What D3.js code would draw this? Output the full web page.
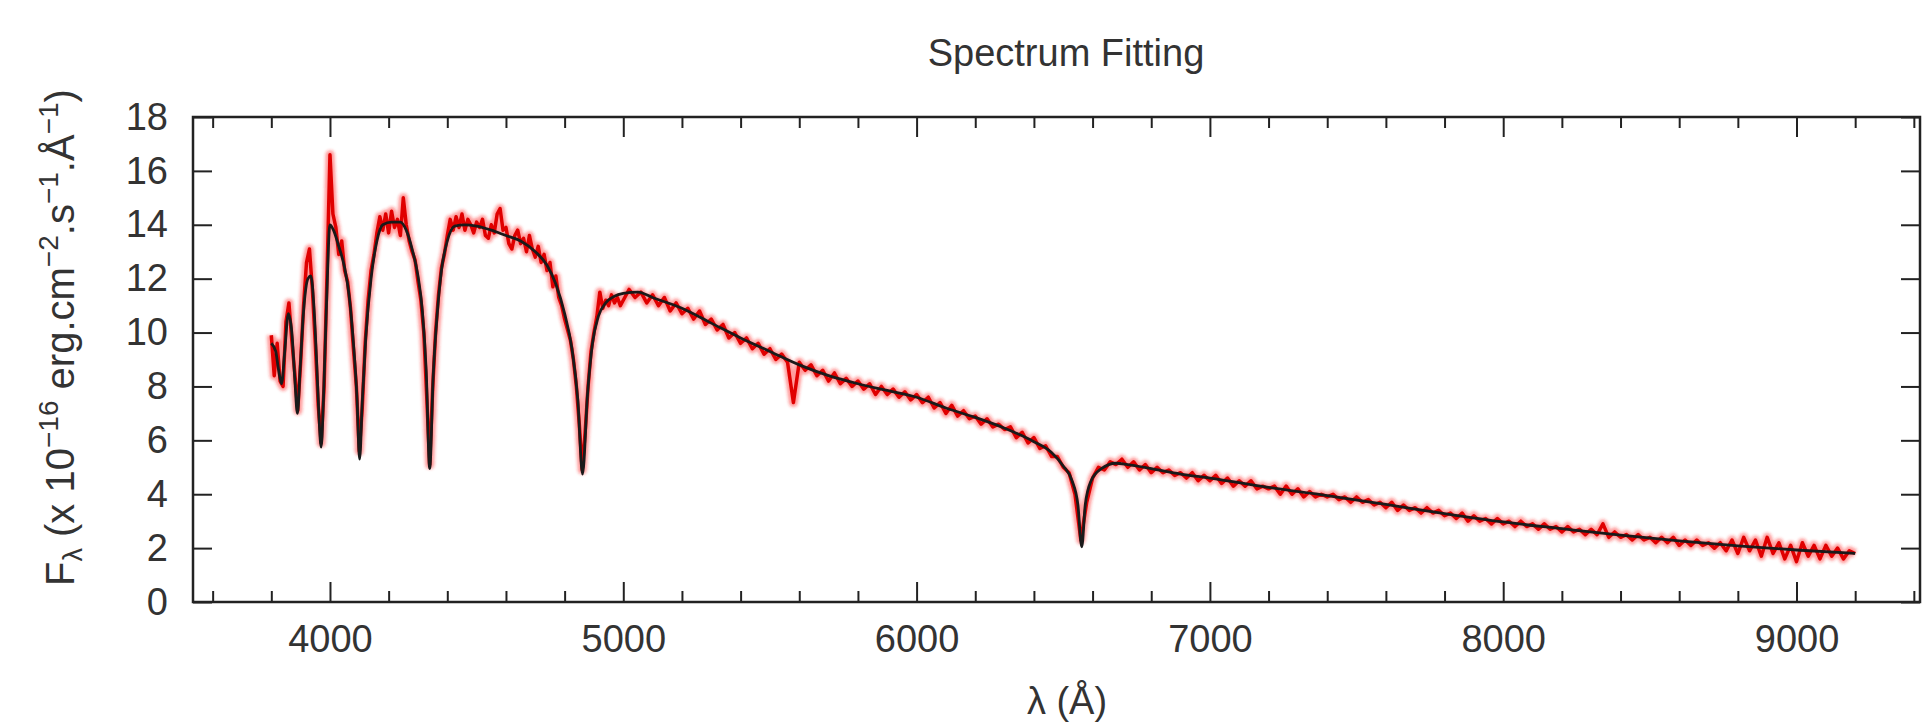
<!DOCTYPE html>
<html>
<head>
<meta charset="utf-8">
<script src="https://cdn.jsdelivr.net/npm/d3@7"></script>
<style>
  body { margin: 0; background: #ffffff; }
  text { font-family: "Liberation Sans", Arial, sans-serif; fill: #333333; }
  .tick line { stroke: #222222; stroke-width: 2px; }
</style>
</head>
<body>
<svg width="1923" height="724"></svg>
<script>
// ***********************************
// Data

// Fitted model (black): wavelength in Angstrom, flux in 1e-16 erg/cm2/s/A
var modelWave = [
  3800, 3815, 3825, 3835, 3845, 3858, 3870, 3880, 3889, 3898,
  3910, 3925, 3935, 3945, 3955, 3962, 3970, 3978, 3988, 4000,
  4012, 4030, 4050, 4065, 4080, 4092, 4101, 4110, 4122, 4140,
  4160, 4180, 4210, 4240, 4260, 4280, 4300, 4315, 4328, 4340,
  4352, 4365, 4380, 4400, 4425, 4460, 4500, 4550, 4600, 4650,
  4700, 4740, 4770, 4800, 4825, 4845, 4861, 4878, 4895, 4915,
  4940, 4970, 5000, 5050, 5100, 5200, 5300, 5400, 5500, 5600,
  5700, 5800, 5900, 6000, 6100, 6200, 6300, 6400, 6460, 6500,
  6530, 6550, 6563, 6575, 6595, 6630, 6680, 6720, 6800, 6900,
  7000, 7200, 7400, 7600, 7800, 8000, 8200, 8400, 8600, 8800,
  9000, 9200
];
var modelFlux = [
  9.6, 9.3, 8.6, 8.1, 9.2, 10.7, 10.0, 8.3, 7.0, 8.6,
  10.8, 12.0, 12.1, 11.0, 8.8, 7.0, 5.75, 7.6, 11.0, 14.0,
  13.8, 13.2, 12.4, 11.4, 9.6, 7.6, 5.3, 7.4, 9.8, 12.0,
  13.4, 14.0, 14.1, 14.1, 13.8, 13.1, 12.1, 10.8, 8.6, 4.95,
  8.4, 10.6, 12.3, 13.4, 13.95, 14.0, 13.95, 13.8, 13.6, 13.4,
  13.0, 12.5, 11.8, 10.7, 9.4, 7.5, 4.75, 7.7, 9.6, 10.6,
  11.1, 11.35, 11.45, 11.5, 11.3, 10.9, 10.35, 9.8, 9.3, 8.8,
  8.4, 8.1, 7.85, 7.6, 7.2, 6.85, 6.45, 5.95, 5.55, 5.05,
  4.5, 3.6, 2.05, 3.6, 4.5, 4.95, 5.15, 5.1, 4.95, 4.75,
  4.6, 4.25, 3.95, 3.62, 3.28, 2.97, 2.72, 2.48, 2.27, 2.08,
  1.93, 1.8
];

// Observed spectrum (red), blue part: 3800..4990 A every 10 A
var obsBlueStart = 3800, obsBlueStep = 10;
var obsBlueFlux = [
  9.9, 8.4, 9.6, 8.2, 8.0, 10.4, 11.1, 9.7, 8.5, 7.1,
  8.9, 11.0, 12.6, 13.1, 11.6, 9.6, 7.3, 5.9, 8.0, 12.2,
  16.6, 14.4, 13.9, 12.9, 13.4, 12.3, 11.9, 10.9, 9.4, 8.0,
  5.6, 7.2, 9.6, 11.2, 12.3, 12.9, 13.7, 14.3, 13.8, 14.4,
  13.7, 14.5, 13.9, 14.2, 13.6, 15.0, 14.0, 13.4, 13.0, 12.7,
  11.9, 11.2, 10.0, 7.6, 5.1, 7.9, 10.0, 11.4, 12.4, 12.9,
  13.6, 14.2, 13.8, 14.3, 13.9, 14.4, 13.8, 14.2, 14.0, 13.7,
  14.1, 13.9, 14.2, 13.6, 13.5, 14.0, 13.7, 14.4, 14.6, 13.8,
  13.9, 13.3, 13.1, 13.6, 13.8, 13.3, 13.5, 13.0, 13.6, 13.1,
  12.8, 13.2, 12.6, 12.9, 12.3, 12.6, 11.7, 12.1, 11.3, 11.0,
  10.5, 10.1, 9.7, 9.0, 8.0, 6.6, 4.9, 6.3, 8.0, 9.3,
  10.0, 10.6, 11.5, 10.9, 11.2, 11.0, 11.4, 11.1, 11.3, 11.0
];

// Observed spectrum (red), red part: 5000..9200 A every 20 A
var obsRedStart = 5000, obsRedStep = 20;
var obsRedFlux = [
  11.2, 11.6, 11.3, 11.5, 11.1, 11.4, 11.0, 11.3, 10.8, 11.1,
  10.7, 10.9, 10.5, 10.8, 10.3, 10.5, 10.1, 10.3, 9.8, 10.0,
  9.6, 9.8, 9.4, 9.6, 9.2, 9.4, 9.0, 9.2, 8.9, 7.4,
  8.9, 8.6, 8.8, 8.4, 8.6, 8.2, 8.5, 8.1, 8.3, 8.0,
  8.2, 7.9, 8.1, 7.7, 8.0, 7.7, 7.9, 7.6, 7.8, 7.5,
  7.7, 7.4, 7.6, 7.2, 7.4, 7.0, 7.3, 6.9, 7.1, 6.8,
  6.9, 6.6, 6.8, 6.5, 6.6, 6.4, 6.5, 6.1, 6.3, 5.9,
  6.1, 5.7, 5.8, 5.4, 5.4, 5.0, 4.8, 4.0, 2.3, 3.7,
  4.6, 5.0, 4.9, 5.2, 5.1, 5.3, 5.0, 5.2, 4.9, 5.1,
  4.8, 5.0, 4.8, 4.9, 4.7, 4.8, 4.6, 4.8, 4.5, 4.7,
  4.5, 4.7, 4.4, 4.6, 4.3, 4.5, 4.3, 4.5, 4.2, 4.3,
  4.2, 4.3, 4.0, 4.3, 4.0, 4.2, 3.9, 4.1, 3.9, 4.0,
  3.9, 4.0, 3.8, 3.9, 3.7, 3.9, 3.7, 3.8, 3.6, 3.7,
  3.5, 3.7, 3.4, 3.6, 3.4, 3.5, 3.3, 3.5, 3.3, 3.4,
  3.2, 3.3, 3.1, 3.3, 3.0, 3.2, 3.0, 3.1, 2.9, 3.1,
  2.9, 3.0, 2.8, 3.0, 2.8, 2.9, 2.7, 2.9, 2.7, 2.8,
  2.6, 2.8, 2.6, 2.7, 2.5, 2.7, 2.5, 2.9, 2.4, 2.6,
  2.4, 2.5, 2.3, 2.5, 2.3, 2.4, 2.2, 2.4, 2.2, 2.4,
  2.1, 2.3, 2.1, 2.3, 2.1, 2.2, 2.0, 2.2, 1.9, 2.3,
  1.8, 2.4, 1.9, 2.3, 1.7, 2.4, 1.8, 2.2, 1.6, 2.1,
  1.5, 2.2, 1.7, 2.1, 1.6, 2.1, 1.7, 2.0, 1.6, 1.9,
  1.8
];

// Axis ticks
var xMajorTicks = [4000, 5000, 6000, 7000, 8000, 9000];
var xMinorTicks = [3600, 3800, 4200, 4400, 4600, 4800, 5200, 5400, 5600, 5800,
  6200, 6400, 6600, 6800, 7200, 7400, 7600, 7800, 8200, 8400, 8600, 8800, 9200, 9400];
var yTicks = [0, 2, 4, 6, 8, 10, 12, 14, 16, 18];

// ***********************************
// Layout

var svg = d3.select("svg");
var margin = {left: 193, top: 117, right: 3, bottom: 122};
var width = 1923 - margin.left - margin.right,
  height = 724 - margin.top - margin.bottom;

var g = svg.append("g")
  .attr("transform", "translate(" + margin.left + "," + margin.top + ")");

var x = d3.scaleLinear().domain([3533, 9421]).range([0, width]);
var y = d3.scaleLinear().domain([0, 18]).range([height, 0]);

// Build the observed points from the two sampled arrays
var obs = obsBlueFlux.map(function(f, i) {
  return {w: obsBlueStart + i * obsBlueStep, f: f};
}).concat(obsRedFlux.map(function(f, i) {
  return {w: obsRedStart + i * obsRedStep, f: f};
}));
var model = modelWave.map(function(w, i) { return {w: w, f: modelFlux[i]}; });

// blur used to soften the red data like the scanned original
var defs = svg.append("defs");
defs.append("filter").attr("id", "soft")
  .attr("x", "-5%").attr("y", "-20%").attr("width", "110%").attr("height", "140%")
  .append("feGaussianBlur").attr("stdDeviation", 1.6);

// ***********************************
// Axes (ticks point inward on all four sides)

// bottom: minor then major with labels
g.append("g")
  .attr("transform", "translate(0," + height + ")")
  .call(d3.axisBottom(x).tickValues(xMinorTicks).tickSize(-11).tickFormat(""))
  .call(function(a) { a.select(".domain").remove(); });
g.append("g")
  .attr("transform", "translate(0," + height + ")")
  .call(d3.axisBottom(x).tickValues(xMajorTicks).tickSize(-20).tickPadding(23)
    .tickFormat(d3.format("d")))
  .call(function(a) {
    a.select(".domain").remove();
    a.selectAll("text").attr("font-size", 38).attr("fill", "#333").attr("font-family", null);
  });

// top: mirrored ticks, no labels
g.append("g")
  .call(d3.axisTop(x).tickValues(xMinorTicks).tickSize(-11).tickFormat(""))
  .call(function(a) { a.select(".domain").remove(); });
g.append("g")
  .call(d3.axisTop(x).tickValues(xMajorTicks).tickSize(-20).tickFormat(""))
  .call(function(a) { a.select(".domain").remove(); });

// left with labels
g.append("g")
  .call(d3.axisLeft(y).tickValues(yTicks).tickSize(-19).tickPadding(25))
  .call(function(a) {
    a.select(".domain").remove();
    a.selectAll("text").attr("font-size", 38).attr("fill", "#333").attr("font-family", null);
  });

// right: mirrored ticks
g.append("g")
  .attr("transform", "translate(" + width + ",0)")
  .call(d3.axisRight(y).tickValues(yTicks).tickSize(-19).tickFormat(""))
  .call(function(a) { a.select(".domain").remove(); });

// ***********************************
// Spectra

g.append("clipPath").attr("id", "plotclip")
  .append("rect").attr("width", width).attr("height", height);

var obsLine = d3.line()
  .x(function(d) { return x(d.w); })
  .y(function(d) { return y(d.f); });

var modelLine = d3.line()
  .curve(d3.curveMonotoneX)
  .x(function(d) { return x(d.w); })
  .y(function(d) { return y(d.f); });

var plot = g.append("g").attr("clip-path", "url(#plotclip)");

// soft halo around the noisy red data
plot.append("path")
  .datum(obs)
  .attr("d", obsLine)
  .attr("fill", "none")
  .attr("stroke", "#ff2020")
  .attr("stroke-opacity", 0.45)
  .attr("stroke-width", 9)
  .attr("stroke-linejoin", "round")
  .attr("filter", "url(#soft)");

plot.append("path")
  .datum(obs)
  .attr("d", obsLine)
  .attr("fill", "none")
  .attr("stroke", "#e00000")
  .attr("stroke-width", 3.5)
  .attr("stroke-linejoin", "round");

plot.append("path")
  .datum(model)
  .attr("d", modelLine)
  .attr("fill", "none")
  .attr("stroke", "#1a1a1a")
  .attr("stroke-width", 2.8);

// frame
g.append("rect")
  .attr("width", width)
  .attr("height", height)
  .attr("fill", "none")
  .attr("stroke", "#222")
  .attr("stroke-width", 2.5);

// ***********************************
// Titles

svg.append("text")
  .attr("x", 1066)
  .attr("y", 66)
  .attr("text-anchor", "middle")
  .attr("font-size", 38)
  .text("Spectrum Fitting");

svg.append("text")
  .attr("x", 1067)
  .attr("y", 714)
  .attr("text-anchor", "middle")
  .attr("font-size", 38)
  .text("λ (Å)");

var yTitle = svg.append("text")
  .attr("transform", "translate(74,586) rotate(-90)")
  .attr("font-size", 40);
yTitle.append("tspan").text("F");
yTitle.append("tspan").attr("font-size", 27).attr("dy", 8).text("λ");
yTitle.append("tspan").attr("dy", -8).text("  (x 10");
yTitle.append("tspan").attr("font-size", 28).attr("dy", -16).text("−16");
yTitle.append("tspan").attr("dy", 16).text("   erg.cm");
yTitle.append("tspan").attr("font-size", 28).attr("dy", -16).text("−2");
yTitle.append("tspan").attr("dy", 16).text(".s");
yTitle.append("tspan").attr("font-size", 28).attr("dy", -16).text("−1");
yTitle.append("tspan").attr("dy", 16).text(".Å");
yTitle.append("tspan").attr("font-size", 28).attr("dy", -16).text("−1");
yTitle.append("tspan").attr("dy", 16).text(")");
</script>
</body>
</html>
